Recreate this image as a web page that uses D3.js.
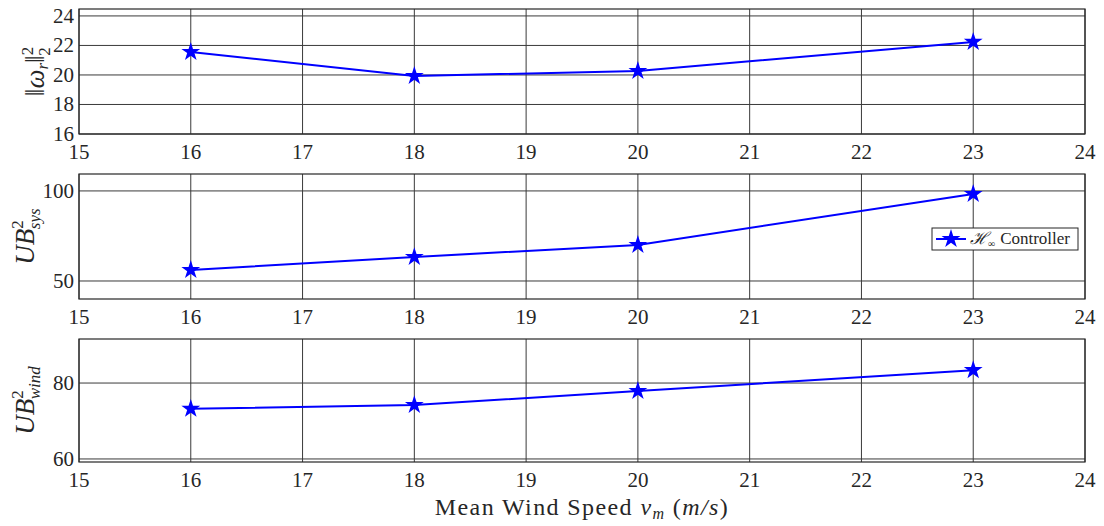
<!DOCTYPE html>
<html>
<head>
<meta charset="utf-8">
<script src="https://cdn.jsdelivr.net/npm/d3@7"></script>
<style>
  html, body { margin: 0; padding: 0; background: #fff; }
  svg { display: block; }
  text { font-family: "Liberation Serif", "DejaVu Serif", serif; fill: #262626; }
</style>
</head>
<body>
<svg id="chart" width="1104" height="526"></svg>
<script>
// Mean wind speeds (m/s)
const windSpeeds = [16, 18, 20, 23];
// Rotor speed norm ||omega_r||_2^2
const omegaNorm = [21.56, 19.93, 20.27, 22.24];
// System uncertainty bound UB^2_sys
const ubSys = [56.1, 63.3, 70.0, 98.3];
// Wind uncertainty bound UB^2_wind
const ubWind = [73.2, 74.2, 77.9, 83.4];

const xTicks = [15, 16, 17, 18, 19, 20, 21, 22, 23, 24];
const omegaTicks = [16, 18, 20, 22, 24];
const sysTicks = [50, 100];
const windTicks = [60, 80];

const svg = d3.select("#chart");
const left = 79, right = 1085;

const x = d3.scaleLinear().domain([15, 24]).range([left, right]);

const panels = [
  { values: omegaNorm, ticks: omegaTicks, domain: [16, 24.47], top: 9, bottom: 134, label: "omega" },
  { values: ubSys, ticks: sysTicks, domain: [40, 109.4], top: 174, bottom: 299, label: "sys" },
  { values: ubWind, ticks: windTicks, domain: [59.2, 91.6], top: 339, bottom: 462, label: "wind" }
];

const starPath = d3.symbol().type(d3.symbolStar).size(110);

panels.forEach((p, i) => {
  const y = d3.scaleLinear().domain(p.domain).range([p.bottom, p.top]);
  const g = svg.append("g");

  // grid
  g.selectAll(".gx").data(xTicks).join("line")
    .attr("x1", d => x(d)).attr("x2", d => x(d))
    .attr("y1", p.top).attr("y2", p.bottom)
    .attr("stroke", "#3a3a3a").attr("stroke-width", 1);
  g.selectAll(".gy").data(p.ticks).join("line")
    .attr("x1", left).attr("x2", right)
    .attr("y1", d => y(d)).attr("y2", d => y(d))
    .attr("stroke", "#3a3a3a").attr("stroke-width", 1);

  // box
  g.append("rect").attr("x", left).attr("y", p.top)
    .attr("width", right - left).attr("height", p.bottom - p.top)
    .attr("fill", "none").attr("stroke", "#262626").attr("stroke-width", 1.2);

  // x tick labels
  g.selectAll(".xt").data(xTicks).join("text")
    .attr("x", d => x(d)).attr("y", p.bottom + 25)
    .attr("text-anchor", "middle").attr("font-size", 21)
    .text(d => d);

  // y tick labels
  g.selectAll(".yt").data(p.ticks).join("text")
    .attr("x", left - 5).attr("y", d => y(d) + 7)
    .attr("text-anchor", "end").attr("font-size", 21)
    .text(d => d);

  // series line
  const line = d3.line().x((d, j) => x(windSpeeds[j])).y(d => y(d));
  g.append("path").datum(p.values)
    .attr("d", line).attr("fill", "none")
    .attr("stroke", "#0000ff").attr("stroke-width", 2);

  g.selectAll(".mk").data(p.values).join("path")
    .attr("d", starPath)
    .attr("transform", (d, j) => `translate(${x(windSpeeds[j])},${y(d)})`)
    .attr("fill", "#0000ff");

  // y axis label
  const cy = (p.top + p.bottom) / 2;
  const lab = g.append("text")
    .attr("text-anchor", "middle");
  if (p.label === "omega") {
    lab.attr("transform", `translate(44,${cy}) rotate(-90)`).attr("font-size", 27);
    lab.append("tspan").text("‖");
    lab.append("tspan").attr("font-style", "italic").text("ω");
    lab.append("tspan").attr("font-style", "italic").attr("font-size", 17).attr("dy", 4).text("r");
    lab.append("tspan").attr("dy", -4).text("‖");
    lab.append("tspan").attr("font-size", 17).attr("dy", -11).text("2");
    lab.append("tspan").attr("font-size", 17).attr("dx", -9).attr("dy", 17).text("2");
  } else {
    lab.attr("transform", `translate(34,${cy}) rotate(-90)`).attr("font-size", 27);
    lab.append("tspan").attr("font-style", "italic").text("UB");
    lab.append("tspan").attr("font-size", 17).attr("dy", -11).text("2");
    lab.append("tspan").attr("font-style", "italic").attr("font-size", 17)
      .attr("dx", -9).attr("dy", 17).text(p.label);
  }
});

// x axis title
const title = svg.append("text").attr("x", 582).attr("y", 515)
  .attr("text-anchor", "middle").attr("font-size", 24)
  .attr("letter-spacing", 1.4);
title.append("tspan").text("Mean Wind Speed ");
title.append("tspan").attr("font-style", "italic").text("v");
title.append("tspan").attr("font-style", "italic").attr("font-size", 16).attr("dy", 4).text("m");
title.append("tspan").attr("dy", -4).text("  (");
title.append("tspan").attr("font-style", "italic").text("m/s");
title.append("tspan").text(")");

// legend
const lg = svg.append("g").attr("transform", "translate(932,228)");
lg.append("rect").attr("width", 146).attr("height", 22)
  .attr("fill", "#fff").attr("stroke", "#262626").attr("stroke-width", 1);
lg.append("line").attr("x1", 4).attr("x2", 34).attr("y1", 11).attr("y2", 11)
  .attr("stroke", "#0000ff").attr("stroke-width", 2);
lg.append("path").attr("d", starPath).attr("transform", "translate(19,11)")
  .attr("fill", "#0000ff");
const lt = lg.append("text").attr("x", 38).attr("y", 16).attr("font-size", 17);
lt.append("tspan").attr("font-style", "italic").text("ℋ");
lt.append("tspan").attr("font-size", 10).attr("dy", 3).text("∞");
lt.append("tspan").attr("dy", -3).attr("dx", 5).text("Controller");
</script>
</body>
</html>
